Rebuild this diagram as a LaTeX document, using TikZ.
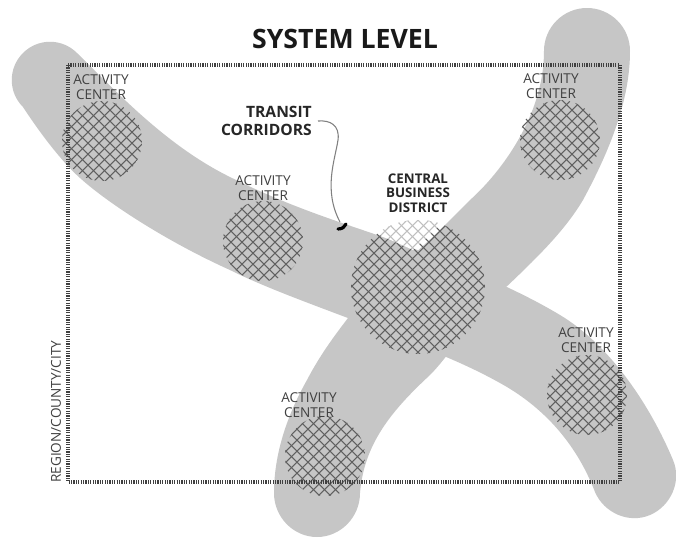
\documentclass[tikz,border=0pt]{standalone}
\usepackage{fontspec}
\setmainfont{Open Sans}
\definecolor{corr}{HTML}{C6C6C6}
\definecolor{hatchc}{HTML}{606060}
\definecolor{labelc}{HTML}{404040}
\newcommand{\hatchlines}[4]{% cx cy r colour
  \pgfmathsetmacro{\kA}{floor((#1+#2-1.45*#3)/11)*11}
  \pgfmathsetmacro{\kB}{\kA+11}
  \pgfmathsetmacro{\kC}{(#1+#2+1.45*#3)}
  \foreach \k in {\kA,\kB,...,\kC}{
    \draw[#4,line width=0.8pt] ({\k-#2-1.5*#3},{#2+1.5*#3}) -- ({\k-#2+1.5*#3},{#2-1.5*#3});
  }
  \pgfmathsetmacro{\mA}{floor((#1-#2-1.45*#3)/11)*11}
  \pgfmathsetmacro{\mB}{\mA+11}
  \pgfmathsetmacro{\mC}{(#1-#2+1.45*#3)}
  \foreach \k in {\mA,\mB,...,\mC}{
    \draw[#4,line width=0.8pt] ({\k+#2-1.5*#3},{#2-1.5*#3}) -- ({\k+#2+1.5*#3},{#2+1.5*#3});
  }
}
\newcommand{\hatchcircle}[3]{%
  \begin{scope}
    \clip (#1,#2) circle[radius=#3];
    \hatchlines{#1}{#2}{#3}{hatchc}
  \end{scope}
}
\tikzset{
  corridor/.style={fill=corr,draw=none},
  actlabel/.style={font=\fontsize{10.2pt}{11.4pt}\selectfont,text=labelc,align=center,inner sep=0pt},
  boldlabel/.style={font=\fontsize{10pt}{10.9pt}\selectfont\bfseries,text=black!85,align=center,inner sep=0pt},
}
\begin{document}
\begin{tikzpicture}[x=0.75pt,y=-0.75pt]
\useasboundingbox (0,0) rectangle (676,537);
\fill[white] (0,0) rectangle (676,537);
% corridor running from upper left to lower right
\fill[corridor] (23,53) .. controls (38,38) and (62,38) .. (77,53)
  .. controls (115,90) and (165,145) .. (230,177)
  .. controls (290,207) and (340,222) .. (380,236)
  .. controls (450,262) and (510,285) .. (560,315)
  .. controls (610,345) and (650,405) .. (673,460)
  .. controls (682,481) and (671,506) .. (650,515)
  .. controls (629,524) and (604,513) .. (595,492)
  .. controls (575,440) and (540,405) .. (500,383)
  .. controls (450,355) and (400,340) .. (348,318)
  .. controls (300,300) and (260,285) .. (230,270)
  .. controls (170,243) and (110,205) .. (80,178)
  .. controls (60,160) and (38,130) .. (23,107)
  .. controls (8,92) and (8,68) .. (23,53) -- cycle;
% corridor running from lower left to upper right
\fill[corridor] (544,51) .. controls (544,27.3) and (563.3,8) .. (587,8)
  .. controls (610.7,8) and (630,27.3) .. (630,51)
  .. controls (630,100) and (610,150) .. (583,200)
  .. controls (565,230) and (540,255) .. (503,290)
  .. controls (470,320) and (450,355) .. (430,375)
  .. controls (390,412) and (364,445) .. (360,493)
  .. controls (360,517) and (340.7,537) .. (317,537)
  .. controls (293.3,537) and (274,517) .. (274,493)
  .. controls (274,450) and (290,410) .. (307,380)
  .. controls (320,355) and (335,335) .. (348,318)
  .. controls (375,285) and (410,260) .. (445,225)
  -- (470,200)
  .. controls (495,178) and (544,120) .. (544,51) -- cycle;
% hatched circles
\hatchcircle{102}{141}{40}
\hatchcircle{263}{241}{40}
\hatchcircle{560}{140}{40}
\hatchcircle{587}{395}{40}
\hatchcircle{325}{456}{40}
\hatchcircle{418}{287}{67}
% lighter hatch where the CBD lies outside the corridors
\begin{scope}
  \clip (418,287) circle[radius=67];
  \clip (370,205) -- (378,234) -- (413,250) -- (442,223) -- (460,205) -- cycle;
  \fill[white] (340,200) rectangle (500,260);
  \hatchlines{418}{287}{67}{black!25}
\end{scope}
% frame
\draw[black!75,line width=3pt,dash pattern=on 0.9pt off 0.9pt] (68,65) rectangle (620,482);
% title and labels
\node[font=\fontsize{20pt}{22pt}\selectfont\bfseries,text=black!90,inner sep=0pt] (title) at (345,39) {SYSTEM LEVEL};
\node[actlabel] (a1) at (101,87) {ACTIVITY\\CENTER};
\node[actlabel] (a2) at (263,188) {ACTIVITY\\CENTER};
\node[actlabel] (a3) at (551,86) {ACTIVITY\\CENTER};
\node[actlabel] (a4) at (586,340) {ACTIVITY\\CENTER};
\node[actlabel] (a5) at (309,405) {ACTIVITY\\CENTER};
\node[boldlabel] (cbd) at (418,193) {CENTRAL\\BUSINESS\\DISTRICT};
\node[boldlabel,font=\fontsize{11.7pt}{13.5pt}\selectfont\bfseries,align=right,anchor=east] (tc) at (312,121) {TRANSIT\\CORRIDORS};
\node[font=\fontsize{10.2pt}{11pt}\selectfont,text=labelc,rotate=90,inner sep=0pt,anchor=west] (reg) at (56,483) {REGION/COUNTY/CITY};
% leader
\coordinate (tip) at (340,222);
\draw[black!50,line width=0.8pt] ([xshift=4.5pt]tc.east) .. controls (330,120) and (340,125) .. (338,140)
  .. controls (335,160) and (323,190) .. (tip);
\draw[black,line width=2.4pt,line cap=round] (338,229) .. controls (342,229) and (345,227) .. (346,224);
\end{tikzpicture}
\end{document}
